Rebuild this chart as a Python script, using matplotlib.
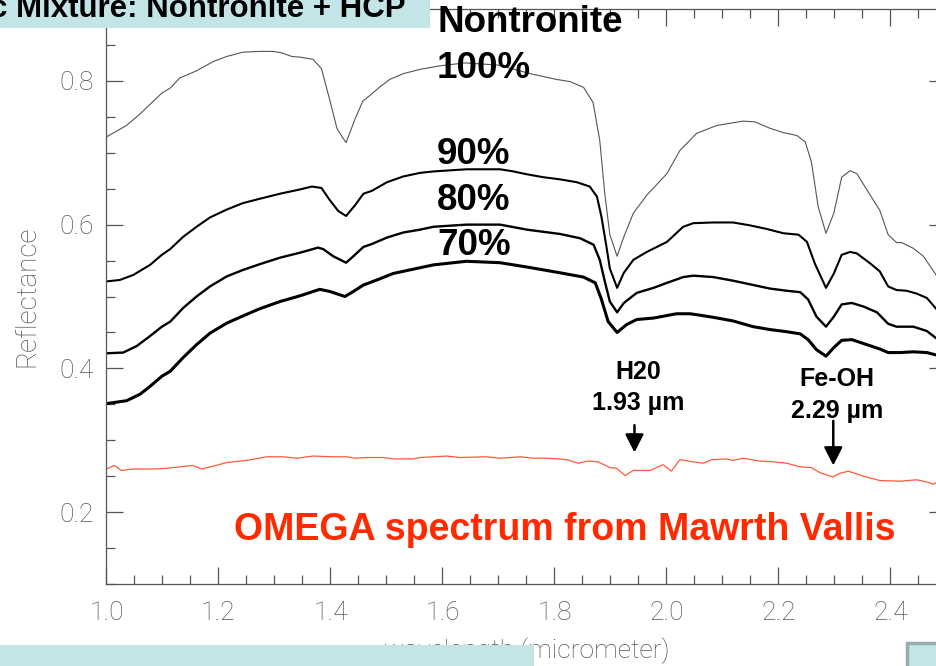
import numpy as np
import matplotlib
matplotlib.use("Agg")
import matplotlib.pyplot as plt
from matplotlib.patches import Rectangle
from matplotlib.ticker import MultipleLocator, FormatStrFormatter

# ======== Data ========

wl_100 = [1.000, 1.036, 1.060, 1.099, 1.114, 1.131, 1.161, 1.191, 1.215, 1.244,
          1.274, 1.298, 1.313, 1.331, 1.346, 1.369, 1.384, 1.399, 1.412, 1.428,
          1.444, 1.458, 1.471, 1.489, 1.506, 1.530, 1.560, 1.596, 1.640, 1.700,
          1.757, 1.786, 1.804, 1.828, 1.852, 1.869, 1.881, 1.890, 1.899, 1.912,
          1.924, 1.941, 1.965, 2.001, 2.024, 2.054, 2.090, 2.137, 2.158, 2.185,
          2.209, 2.233, 2.248, 2.259, 2.271, 2.285, 2.299, 2.313, 2.328, 2.340,
          2.364, 2.381, 2.396, 2.411, 2.420, 2.441, 2.459, 2.485]
refl_100 = [0.722, 0.738, 0.754, 0.783, 0.790, 0.804, 0.814, 0.827, 0.834, 0.840,
            0.841, 0.841, 0.839, 0.834, 0.833, 0.830, 0.817, 0.773, 0.733, 0.714,
            0.747, 0.772, 0.780, 0.792, 0.802, 0.810, 0.816, 0.821, 0.825, 0.822,
            0.810, 0.805, 0.802, 0.799, 0.791, 0.770, 0.717, 0.643, 0.586, 0.556,
            0.583, 0.616, 0.641, 0.671, 0.703, 0.727, 0.738, 0.744, 0.743, 0.734,
            0.728, 0.724, 0.715, 0.687, 0.625, 0.588, 0.616, 0.666, 0.675, 0.671,
            0.641, 0.620, 0.586, 0.575, 0.575, 0.567, 0.556, 0.526]

wl_90 = [1.000, 1.024, 1.048, 1.078, 1.099, 1.114, 1.137, 1.161, 1.185, 1.215,
         1.244, 1.274, 1.310, 1.346, 1.367, 1.384, 1.399, 1.414, 1.428, 1.444,
         1.459, 1.474, 1.501, 1.530, 1.560, 1.584, 1.643, 1.703, 1.727, 1.751,
         1.780, 1.810, 1.840, 1.863, 1.876, 1.884, 1.893, 1.899, 1.912, 1.924,
         1.941, 1.965, 2.001, 2.030, 2.048, 2.084, 2.119, 2.149, 2.179, 2.209,
         2.236, 2.251, 2.265, 2.285, 2.299, 2.313, 2.328, 2.340, 2.364, 2.381,
         2.396, 2.411, 2.429, 2.447, 2.465, 2.485]
refl_90 = [0.521, 0.523, 0.530, 0.544, 0.558, 0.566, 0.583, 0.597, 0.610, 0.621,
           0.630, 0.636, 0.643, 0.649, 0.653, 0.651, 0.634, 0.619, 0.612, 0.627,
           0.643, 0.647, 0.659, 0.667, 0.672, 0.674, 0.677, 0.677, 0.674, 0.670,
           0.666, 0.663, 0.659, 0.653, 0.639, 0.611, 0.569, 0.539, 0.512, 0.533,
           0.551, 0.562, 0.576, 0.597, 0.602, 0.603, 0.603, 0.599, 0.594, 0.588,
           0.586, 0.576, 0.546, 0.512, 0.532, 0.558, 0.562, 0.560, 0.546, 0.535,
           0.514, 0.509, 0.508, 0.504, 0.498, 0.480]

wl_80 = [1.000, 1.030, 1.054, 1.078, 1.099, 1.114, 1.137, 1.161, 1.185, 1.215,
         1.244, 1.274, 1.310, 1.346, 1.378, 1.387, 1.405, 1.428, 1.441, 1.459,
         1.474, 1.501, 1.530, 1.560, 1.584, 1.643, 1.703, 1.751, 1.810, 1.846,
         1.870, 1.881, 1.890, 1.899, 1.912, 1.924, 1.947, 1.977, 2.001, 2.030,
         2.048, 2.084, 2.119, 2.155, 2.185, 2.215, 2.239, 2.253, 2.268, 2.285,
         2.299, 2.313, 2.331, 2.352, 2.376, 2.396, 2.411, 2.441, 2.465, 2.485]
refl_80 = [0.421, 0.422, 0.431, 0.445, 0.458, 0.465, 0.484, 0.500, 0.514, 0.528,
           0.537, 0.545, 0.554, 0.561, 0.568, 0.566, 0.556, 0.547, 0.556, 0.569,
           0.573, 0.582, 0.589, 0.593, 0.597, 0.600, 0.600, 0.593, 0.587, 0.581,
           0.572, 0.551, 0.521, 0.493, 0.478, 0.491, 0.505, 0.512, 0.519, 0.527,
           0.529, 0.527, 0.522, 0.516, 0.511, 0.508, 0.506, 0.496, 0.472, 0.458,
           0.472, 0.489, 0.491, 0.486, 0.478, 0.462, 0.458, 0.458, 0.452, 0.440]

wl_70 = [1.000, 1.036, 1.060, 1.078, 1.099, 1.114, 1.137, 1.161, 1.185, 1.215,
         1.244, 1.274, 1.310, 1.346, 1.381, 1.399, 1.426, 1.441, 1.459, 1.483,
         1.512, 1.542, 1.584, 1.643, 1.703, 1.751, 1.810, 1.852, 1.873, 1.884,
         1.896, 1.912, 1.929, 1.947, 1.977, 2.018, 2.042, 2.060, 2.084, 2.119,
         2.155, 2.185, 2.215, 2.239, 2.253, 2.268, 2.285, 2.299, 2.313, 2.331,
         2.358, 2.381, 2.396, 2.417, 2.441, 2.465, 2.485]
refl_70 = [0.351, 0.355, 0.364, 0.375, 0.389, 0.396, 0.415, 0.433, 0.449, 0.463,
           0.473, 0.483, 0.493, 0.501, 0.510, 0.507, 0.500, 0.507, 0.516, 0.523,
           0.532, 0.537, 0.544, 0.549, 0.547, 0.541, 0.533, 0.527, 0.519, 0.496,
           0.465, 0.450, 0.461, 0.468, 0.470, 0.476, 0.476, 0.474, 0.471, 0.466,
           0.458, 0.454, 0.451, 0.448, 0.440, 0.426, 0.417, 0.429, 0.439, 0.440,
           0.433, 0.427, 0.422, 0.422, 0.423, 0.422, 0.418]

# OMEGA spectrum (Mawrth Vallis)
wl_omega = [1.000, 1.014, 1.027, 1.048, 1.084, 1.108, 1.131, 1.154, 1.170, 1.191,
            1.215, 1.251, 1.286, 1.316, 1.340, 1.369, 1.405, 1.429, 1.444, 1.465,
            1.494, 1.512, 1.548, 1.560, 1.608, 1.631, 1.679, 1.703, 1.739, 1.762,
            1.786, 1.807, 1.822, 1.843, 1.858, 1.878, 1.899, 1.911, 1.926, 1.941,
            1.971, 1.994, 2.009, 2.024, 2.048, 2.066, 2.081, 2.108, 2.119, 2.137,
            2.167, 2.191, 2.215, 2.239, 2.259, 2.274, 2.297, 2.310, 2.325, 2.352,
            2.381, 2.417, 2.447, 2.465, 2.477, 2.485]
refl_omega = [0.260, 0.265, 0.258, 0.260, 0.260, 0.261, 0.263, 0.265, 0.260, 0.264,
              0.269, 0.272, 0.277, 0.277, 0.275, 0.278, 0.277, 0.277, 0.275, 0.276,
              0.276, 0.274, 0.274, 0.276, 0.278, 0.276, 0.277, 0.275, 0.277, 0.275,
              0.275, 0.274, 0.273, 0.268, 0.271, 0.270, 0.262, 0.261, 0.251, 0.258,
              0.258, 0.266, 0.257, 0.273, 0.270, 0.268, 0.273, 0.274, 0.272, 0.275,
              0.271, 0.270, 0.268, 0.263, 0.262, 0.255, 0.249, 0.254, 0.257, 0.250,
              0.244, 0.243, 0.245, 0.242, 0.239, 0.242]

# absorption band arrows: (x, tail, tip)
arrow_h2o = (1.943, 0.321, 0.283)
arrow_feoh = (2.298, 0.327, 0.265)

# ======== Plot ========

W, H = 936, 666
fig = plt.figure(figsize=(W / 100, H / 100), dpi=100)


def px(x, y):
    # pixel position (from top-left) -> figure fraction
    return x / W, 1 - y / H


# axes run from 1.0 to 2.5 micrometer; the right edge falls outside the picture
left, top = 106.4, 9.0
right, bottom = 946.4, 584.0
ax = fig.add_axes([left / W, 1 - bottom / H, (right - left) / W, (bottom - top) / H])

ax.plot(wl_100, refl_100, color="#555555", lw=0.8)
ax.plot(wl_90, refl_90, color="black", lw=1.5)
ax.plot(wl_80, refl_80, color="black", lw=1.7)
ax.plot(wl_70, refl_70, color="black", lw=2.2)
ax.plot(wl_omega, refl_omega, color="#ff5a3c", lw=0.9)

ax.set_xlim(1.0, 2.5)
ax.set_ylim(0.1, 0.9)

thin = dict(family=["Roboto", "DejaVu Sans"], weight="light", size=19, color="#555555")
ax.xaxis.set_major_locator(MultipleLocator(0.2))
ax.xaxis.set_minor_locator(MultipleLocator(0.05))
ax.yaxis.set_major_locator(MultipleLocator(0.2))
ax.yaxis.set_minor_locator(MultipleLocator(0.05))
ax.xaxis.set_major_formatter(FormatStrFormatter("%.1f"))
ax.yaxis.set_major_formatter(FormatStrFormatter("%.1f"))
ax.tick_params(which="both", direction="in", top=True, right=True, color="#555555", width=0.9)
ax.tick_params(which="major", length=12.5)
ax.tick_params(which="minor", length=6.5)
ax.tick_params(axis="x", pad=12)
ax.tick_params(axis="y", pad=9)
for lbl in ax.get_xticklabels() + ax.get_yticklabels():
    lbl.set_fontfamily(thin["family"])
    lbl.set_fontweight(thin["weight"])
    lbl.set_fontsize(thin["size"])
    lbl.set_color(thin["color"])
for sp in ax.spines.values():
    sp.set_color("#555555")
    sp.set_linewidth(0.9)

ax.set_xlabel("wavelength (micrometer)", fontfamily=thin["family"], fontweight="light",
              fontsize=19, color="#555555", labelpad=9)
ax.set_ylabel("Reflectance", fontfamily=thin["family"], fontweight="light",
              fontsize=20, color="#555555", labelpad=14)

# band arrows
for x, tail, tip in [arrow_h2o, arrow_feoh]:
    ax.annotate("", xy=(x, tip), xytext=(x, tail),
                arrowprops=dict(arrowstyle="-|>,head_length=0.55,head_width=0.28",
                                color="black", lw=1.8, mutation_scale=20,
                                shrinkA=0, shrinkB=0))

bold = dict(family=["Liberation Sans", "DejaVu Sans"], weight="bold")

# curve labels
fig.text(*px(437, 22), "Nontronite", fontsize=26.5, va="center", ha="left", **bold)
for label, y in [("100%", 68), ("90%", 155), ("80%", 200), ("70%", 245.5)]:
    fig.text(*px(437, y), label, fontsize=26.5, va="center", ha="left", **bold)

fig.text(*px(638, 372), "H20", fontsize=18, va="center", ha="center", **bold)
fig.text(*px(638, 403), "1.93 \u00b5m", fontsize=18, va="center", ha="center", **bold)
fig.text(*px(837, 379), "Fe-OH", fontsize=18, va="center", ha="center", **bold)
fig.text(*px(837, 411), "2.29 \u00b5m", fontsize=18, va="center", ha="center", **bold)

fig.text(*px(565, 530), "OMEGA spectrum from Mawrth Vallis", fontsize=27, color="#ff2a00",
         va="center", ha="center", **bold)

# slide boxes around the chart
cyan = "#c4e5e8"
fig.add_artist(Rectangle(px(0, 28), 430 / W, 28 / H, transform=fig.transFigure,
                         facecolor=cyan, edgecolor="none", zorder=10))
fig.text(*px(-10, 17), "c Mixture: Nontronite + HCP", fontsize=22.5, va="baseline", ha="left",
         zorder=11, **bold)
fig.add_artist(Rectangle(px(0, 666), 534 / W, 21 / H, transform=fig.transFigure,
                         facecolor=cyan, edgecolor="none", zorder=10))
fig.add_artist(Rectangle(px(907, 668), 40 / W, 25 / H, transform=fig.transFigure,
                         facecolor=cyan, edgecolor="#9aabab", lw=2.5, zorder=10))

fig.savefig("out.png", dpi=100)
